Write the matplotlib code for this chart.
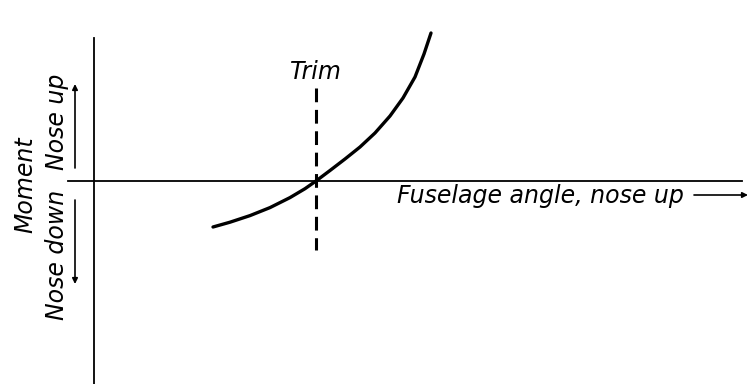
import matplotlib
matplotlib.use("Agg")
import matplotlib.pyplot as plt

# Schematic curve (pixel-like coordinates of the diagram, y grows downward)
curve_x = [213, 230, 250, 270, 290, 305, 316, 330, 345, 360, 375, 390, 403, 415, 424, 431]
curve_y = [227, 222.2, 215.6, 207.6, 197.6, 188.7, 181, 170.5, 159, 147, 133, 116, 98, 77, 54, 33]

trim_x = 316
axis_y = 181
axis_x = 94

fig = plt.figure(figsize=(7.48, 3.84), dpi=100)
ax = fig.add_axes([0, 0, 1, 1])
ax.set_xlim(0, 748)
ax.set_ylim(384, 0)
ax.axis("off")

lw = 1.3
fs = 17
# axes
ax.plot([axis_x, axis_x], [38, 384], color="black", lw=lw)
ax.plot([68, 742], [axis_y, axis_y], color="black", lw=lw)

# curve
ax.plot(curve_x, curve_y, color="black", lw=2.4, solid_capstyle="round",
        solid_joinstyle="round")

# trim dashed line
ax.plot([trim_x, trim_x], [88, 250], color="black", lw=2.2, dashes=(4.5, 2.5))
ax.text(trim_x, 72, "Trim", ha="center", va="center", fontsize=fs, style="italic")

# x label with arrow
ax.text(397, 196, "Fuselage angle, nose up", ha="left", va="center", fontsize=fs, style="italic")
ax.annotate("", xy=(748, 195), xytext=(694, 195),
            arrowprops=dict(arrowstyle="-|>", color="black", lw=1.2, mutation_scale=8,
                            shrinkA=0, shrinkB=0))

# y labels
ax.text(25, 185, "Moment", rotation=90, ha="center", va="center", fontsize=fs, style="italic")
ax.text(57, 122, "Nose up", rotation=90, ha="center", va="center", fontsize=fs, style="italic")
ax.text(57, 255, "Nose down", rotation=90, ha="center", va="center", fontsize=fs, style="italic")
ax.annotate("", xy=(75, 84), xytext=(75, 168),
            arrowprops=dict(arrowstyle="-|>", color="black", lw=1.2, mutation_scale=8,
                            shrinkA=0, shrinkB=0))
ax.annotate("", xy=(75, 284), xytext=(75, 200),
            arrowprops=dict(arrowstyle="-|>", color="black", lw=1.2, mutation_scale=8,
                            shrinkA=0, shrinkB=0))

fig.savefig("out.png", dpi=100, facecolor="white")
